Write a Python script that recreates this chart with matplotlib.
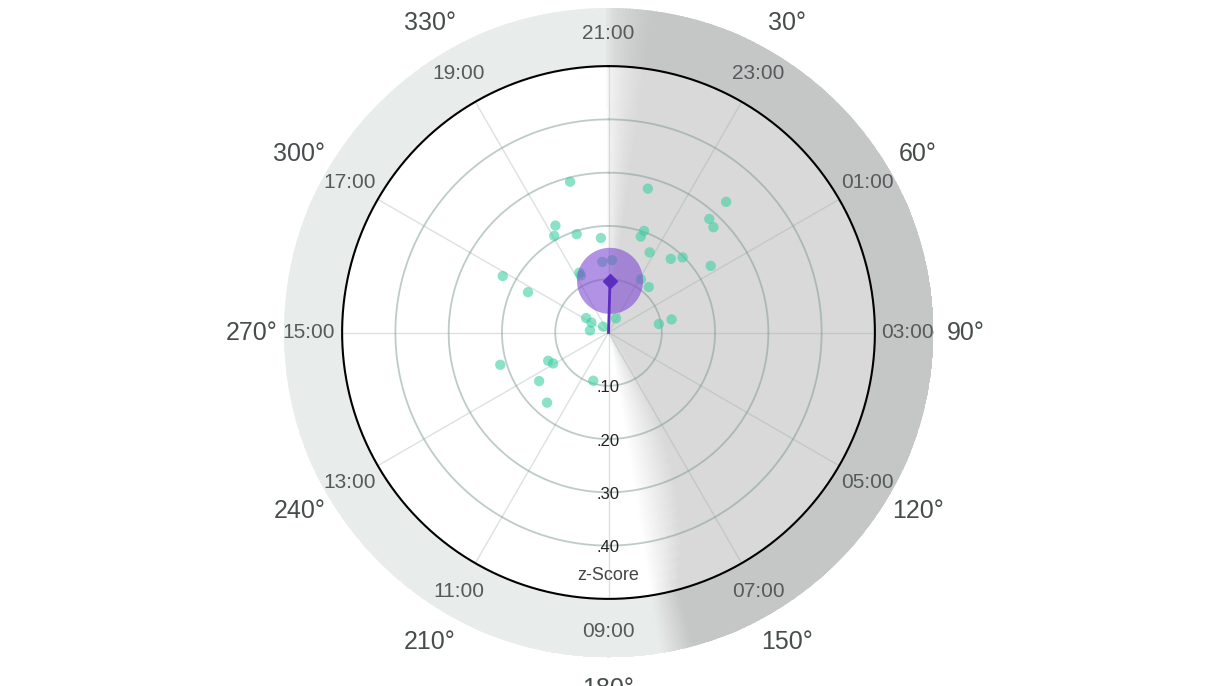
import numpy as np
import matplotlib.pyplot as plt
from matplotlib.colors import LinearSegmentedColormap

plt.rcParams['font.family'] = ['Liberation Sans', 'DejaVu Sans']

# observations: phase angle (deg, clockwise from top) and z-score
theta_deg = [345.7, 15.3, 42.0, 41.6, 44.9, 333.6, 330.7, 342.1, 355.4, 19.3,
             18.6, 27.2, 40.2, 44.6, 56.9, 355.0, 2.8, 298.1, 334.0, 334.2,
             296.6, 31.3, 41.5, 302.8, 300.3, 276.2, 317.5, 27.8, 80.4, 78.3,
             253.4, 244.9, 240.8, 235.0, 197.5, 221.2]
zscore = [0.292, 0.280, 0.330, 0.285, 0.279, 0.224, 0.208, 0.194, 0.178, 0.202,
          0.190, 0.169, 0.181, 0.198, 0.229, 0.133, 0.136, 0.225, 0.125, 0.119,
          0.169, 0.117, 0.114, 0.050, 0.037, 0.035, 0.015, 0.030, 0.096, 0.121,
          0.212, 0.125, 0.119, 0.159, 0.095, 0.175]

# mean vector and its confidence circle
mean_deg = 1.7
mean_r = 0.097
ci_radius = 0.062

ring_ticks = [0.1, 0.2, 0.3, 0.4]
ring_labels = ['.10', '.20', '.30', '.40']
hour_angles = list(range(0, 360, 30))
hour_labels = ['21:00', '23:00', '01:00', '03:00', '05:00', '07:00',
               '09:00', '11:00', '13:00', '15:00', '17:00', '19:00']
degree_angles = list(range(30, 360, 30))
degree_labels = ['30°', '60°', '90°', '120°', '150°', '180°',
                 '210°', '240°', '270°', '300°', '330°']

R_INNER = 0.5
R_OUTER = 0.61

fig = plt.figure(figsize=(12.19, 6.86), dpi=100)
W, H = 1219, 686
cx, cy = 608.5, 686 - 332.5
rad_px = 325
ax = fig.add_axes([(cx - rad_px) / W, (cy - rad_px) / H, 2 * rad_px / W, 2 * rad_px / H],
                  projection='polar')
ax.set_theta_zero_location('N')
ax.set_theta_direction(-1)
ax.set_ylim(0, R_OUTER)
ax.set_xticks([])
ax.set_yticks([])
ax.grid(False)
ax.spines['polar'].set_visible(False)
ax.patch.set_visible(False)

# night shading (dark from 21:00 to ~08:00) with soft edges
tgrid = np.linspace(-180, 180, 1441)
tc = 0.5 * (tgrid[:-1] + tgrid[1:])
T = np.deg2rad(tgrid)

def shading(rmid):
    rise = np.clip((tc + 0.5) / 8.5, 0, 1) ** 0.5
    width = 6.0 + max(0.0, R_INNER - rmid) * 45
    fall = np.clip((171 - tc) / width, 0, 1)
    return np.minimum(rise, fall)

r_in = np.linspace(0, R_INNER, 26)
shade_in = np.array([shading(0.5 * (a + b)) for a, b in zip(r_in[:-1], r_in[1:])])
shade_out = shading(0.55)[None, :]

cm_in = LinearSegmentedColormap.from_list('in', ['#ffffff', '#d9d9d9'])
cm_out = LinearSegmentedColormap.from_list('out', ['#e8ecea', '#c5c7c7'])
ax.pcolormesh(T, r_in, shade_in, cmap=cm_in, vmin=0, vmax=1, shading='flat', zorder=0)
ax.pcolormesh(T, [R_INNER, R_OUTER], shade_out, cmap=cm_out, vmin=0, vmax=1,
              shading='flat', zorder=0)

full = np.linspace(0, 2 * np.pi, 400)
for a in hour_angles:
    ax.plot([np.deg2rad(a)] * 2, [0, R_INNER], color='#9aa8a8', alpha=0.35, lw=1, zorder=1)
for rt in ring_ticks:
    ax.plot(full, np.full_like(full, rt), color='#7d9895', alpha=0.5, lw=1.3, zorder=1)
ax.plot(full, np.full_like(full, R_INNER), color='black', lw=1.5, zorder=2)

# points
ax.scatter(np.deg2rad(theta_deg), zscore, s=55, color='#3dcfa2', alpha=0.6,
           edgecolors='none', zorder=5)

# confidence circle around mean vector
mx = mean_r * np.sin(np.deg2rad(mean_deg))
my = mean_r * np.cos(np.deg2rad(mean_deg))
t = np.linspace(0, 2 * np.pi, 200)
px = mx + ci_radius * np.cos(t)
py = my + ci_radius * np.sin(t)
ax.fill(np.arctan2(px, py), np.hypot(px, py), color='#7f4ad2', alpha=0.6,
        lw=0, zorder=6)
ax.plot([np.deg2rad(mean_deg)] * 2, [0, mean_r], color='#5b2ec0', lw=2, zorder=7)
ax.plot(np.deg2rad(mean_deg), mean_r, marker='D', ms=7, color='#5b2ec0', zorder=8)

# labels
for rt, lab in zip(ring_ticks, ring_labels):
    ax.text(np.pi, rt + 0.004, lab, ha='center', va='center', fontsize=12,
            color='#222222', zorder=4)
ax.text(np.pi, 0.456, 'z-Score', ha='center', va='center', fontsize=13,
        color='#444444', zorder=4)
for a, lab in zip(hour_angles, hour_labels):
    ax.text(np.deg2rad(a), 0.562, lab, ha='center', va='center', fontsize=15,
            color='#555a5a', zorder=4)
for a, lab in zip(degree_angles, degree_labels):
    ax.text(np.deg2rad(a), 0.67, lab, ha='center', va='center', fontsize=18,
            color='#474c4c', clip_on=False, zorder=4)

fig.savefig('out.png', dpi=100, facecolor='white')
